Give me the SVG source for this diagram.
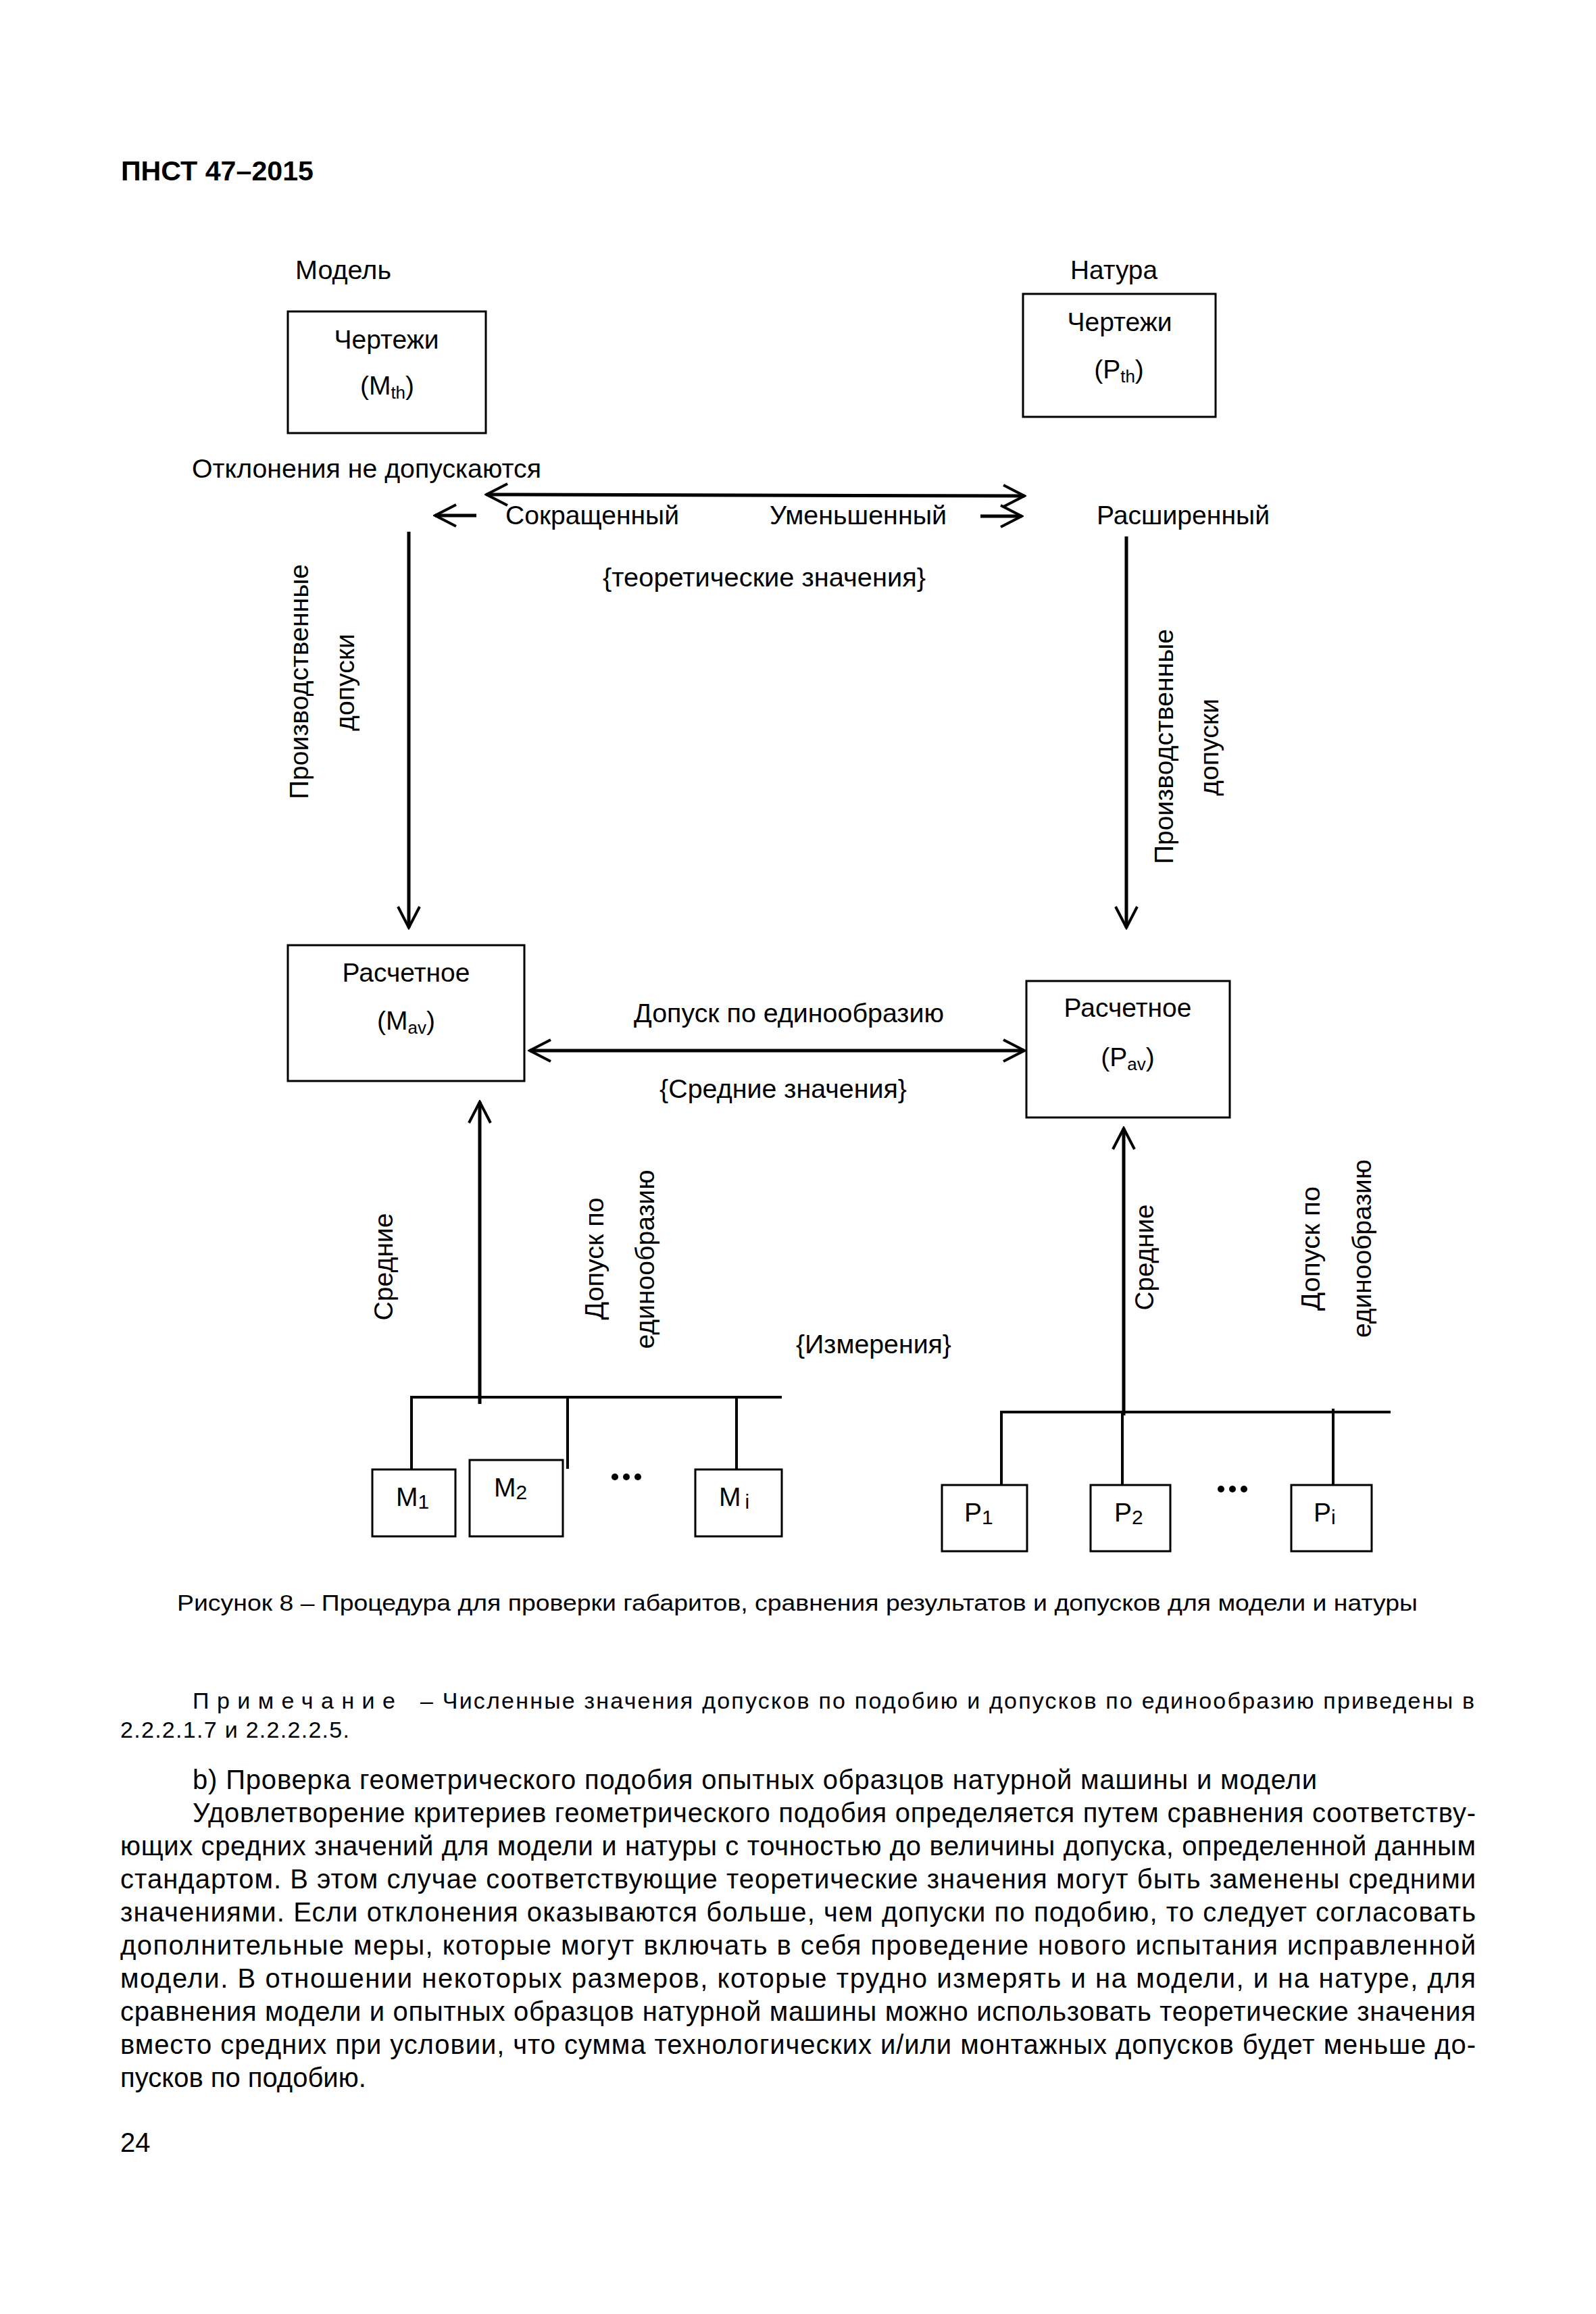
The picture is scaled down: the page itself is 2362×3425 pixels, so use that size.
<svg xmlns="http://www.w3.org/2000/svg" width="2362" height="3425" viewBox="0 0 2362 3425">
<style>
text{font-family:"Liberation Sans",Arial,sans-serif;fill:#000}
.t{font-size:39px}
.c{text-anchor:middle}
.sub{font-size:26px}
.sub2{font-size:30px}
.box{fill:#fff;stroke:#000;stroke-width:3}
.ln{fill:none;stroke:#000;stroke-width:5}
.bus{fill:none;stroke:#000;stroke-width:4}
.body{font-size:40px}
.cap{font-size:34px}
</style>
<defs>
<marker id="ah" viewBox="0 0 36 36" refX="33" refY="18" markerWidth="36" markerHeight="36" markerUnits="userSpaceOnUse" orient="auto-start-reverse">
<path d="M2,2 L33,18 L2,34" fill="none" stroke="#000" stroke-width="4"/>
</marker>
</defs>
<rect width="2362" height="3425" fill="#fff"/>

<text x="179" y="267" style="font-size:40px;font-weight:bold" textLength="285" lengthAdjust="spacingAndGlyphs">ПНСТ 47–2015</text>

<g id="labels-top">
<text class="t" x="437" y="413" textLength="142" lengthAdjust="spacingAndGlyphs">Модель</text>
<text class="t" x="1584" y="413" textLength="129" lengthAdjust="spacingAndGlyphs">Натура</text>
<text class="t" x="284" y="707" textLength="517" lengthAdjust="spacingAndGlyphs">Отклонения не допускаются</text>
<text class="t" x="748" y="776" textLength="257" lengthAdjust="spacingAndGlyphs">Сокращенный</text>
<text class="t" x="1139" y="776" textLength="262" lengthAdjust="spacingAndGlyphs">Уменьшенный</text>
<text class="t" x="1623" y="776" textLength="256" lengthAdjust="spacingAndGlyphs">Расширенный</text>
<text class="t" x="892" y="868" textLength="478" lengthAdjust="spacingAndGlyphs">{теоретические значения}</text>
<text class="t c" transform="translate(456,1009) rotate(-90)" textLength="348" lengthAdjust="spacingAndGlyphs">Производственные</text>
<text class="t c" transform="translate(524,1010) rotate(-90)" textLength="144" lengthAdjust="spacingAndGlyphs">допуски</text>
<text class="t c" transform="translate(1736,1105) rotate(-90)" textLength="348" lengthAdjust="spacingAndGlyphs">Производственные</text>
<text class="t c" transform="translate(1803,1106) rotate(-90)" textLength="144" lengthAdjust="spacingAndGlyphs">допуски</text>
</g>

<g id="labels-middle">
<text class="t" x="938" y="1513" textLength="459" lengthAdjust="spacingAndGlyphs">Допуск по единообразию</text>
<text class="t" x="976" y="1625" textLength="366" lengthAdjust="spacingAndGlyphs">{Средние значения}</text>
<text class="t" x="1178" y="2003" textLength="230" lengthAdjust="spacingAndGlyphs">{Измерения}</text>
<text class="t c" transform="translate(581,1875) rotate(-90)" textLength="159" lengthAdjust="spacingAndGlyphs">Средние</text>
<text class="t c" transform="translate(893,1863) rotate(-90)" textLength="181" lengthAdjust="spacingAndGlyphs">Допуск по</text>
<text class="t c" transform="translate(968,1864) rotate(-90)" textLength="265" lengthAdjust="spacingAndGlyphs">единообразию</text>
<text class="t c" transform="translate(1707,1861) rotate(-90)" textLength="157" lengthAdjust="spacingAndGlyphs">Средние</text>
<text class="t c" transform="translate(1953,1848) rotate(-90)" textLength="184" lengthAdjust="spacingAndGlyphs">Допуск по</text>
<text class="t c" transform="translate(2029,1848) rotate(-90)" textLength="264" lengthAdjust="spacingAndGlyphs">единообразию</text>
</g>

<g id="node-mth">
<rect class="box" x="426" y="461" width="293" height="180"/>
<text class="t c" x="572" y="516">Чертежи</text>
<text class="t c" x="573" y="584">(M<tspan class="sub" dy="6">th</tspan><tspan dy="-6">)</tspan></text>
</g>
<g id="node-pth">
<rect class="box" x="1514" y="435" width="285" height="182"/>
<text class="t c" x="1657" y="490">Чертежи</text>
<text class="t c" x="1656" y="560">(P<tspan class="sub" dy="6">th</tspan><tspan dy="-6">)</tspan></text>
</g>
<g id="node-mav">
<rect class="box" x="426" y="1399" width="350" height="201"/>
<text class="t c" x="601" y="1453">Расчетное</text>
<text class="t c" x="601" y="1524">(M<tspan class="sub" dy="6">av</tspan><tspan dy="-6">)</tspan></text>
</g>
<g id="node-pav">
<rect class="box" x="1519" y="1452" width="301" height="202"/>
<text class="t c" x="1669" y="1505">Расчетное</text>
<text class="t c" x="1669" y="1578">(P<tspan class="sub" dy="6">av</tspan><tspan dy="-6">)</tspan></text>
</g>

<g id="node-m1">
<rect class="box" x="551" y="2175" width="123" height="99"/>
<text class="t" x="586" y="2229">M<tspan class="sub2" dy="4">1</tspan></text>
</g>
<g id="node-m2">
<rect class="box" x="695" y="2161" width="138" height="113"/>
<text class="t" x="731" y="2215">M<tspan class="sub2" dy="4">2</tspan></text>
</g>
<g id="node-mi">
<rect class="box" x="1029" y="2175" width="128" height="99"/>
<text class="t" x="1064" y="2229">M<tspan class="sub2" dx="6" dy="4">i</tspan></text>
</g>
<g id="node-p1">
<rect class="box" x="1394" y="2198" width="126" height="98"/>
<text class="t" x="1427" y="2252">P<tspan class="sub2" dy="4">1</tspan></text>
</g>
<g id="node-p2">
<rect class="box" x="1614" y="2198" width="118" height="98"/>
<text class="t" x="1649" y="2252">P<tspan class="sub2" dy="4">2</tspan></text>
</g>
<g id="node-pi">
<rect class="box" x="1911" y="2198" width="119" height="98"/>
<text class="t" x="1944" y="2252">P<tspan class="sub2" dy="4">i</tspan></text>
</g>

<g id="ellipsis">
<circle cx="910" cy="2186" r="5"/><circle cx="927" cy="2186" r="5"/><circle cx="944" cy="2186" r="5"/>
<circle cx="1807" cy="2204" r="5"/><circle cx="1824" cy="2204" r="5"/><circle cx="1841" cy="2204" r="5"/>
</g>

<g id="connectors">
<line class="ln" x1="720" y1="732" x2="1516" y2="734" marker-start="url(#ah)" marker-end="url(#ah)"/>
<line class="ln" x1="705" y1="763" x2="644" y2="763" marker-end="url(#ah)"/>
<line class="ln" x1="1451" y1="764" x2="1512" y2="764" marker-end="url(#ah)"/>
<line class="ln" x1="605" y1="787" x2="605" y2="1373" marker-end="url(#ah)"/>
<line class="ln" x1="1667" y1="794" x2="1667" y2="1373" marker-end="url(#ah)"/>
<line class="ln" x1="784" y1="1555" x2="1516" y2="1555" marker-start="url(#ah)" marker-end="url(#ah)"/>
<line class="ln" x1="710" y1="2078" x2="710" y2="1631" marker-end="url(#ah)"/>
<line class="ln" x1="1663" y1="2095" x2="1663" y2="1670" marker-end="url(#ah)"/>
<path class="bus" d="M609,2175 V2068 H1157 M840,2068 V2174 M1090,2068 V2175"/>
<path class="bus" d="M1482,2198 V2090 H2058 M1661,2090 V2198 M1973,2085 V2198"/>
</g>

<g id="caption">
<text class="cap" x="262" y="2384" textLength="1836" lengthAdjust="spacingAndGlyphs">Рисунок 8 – Процедура для проверки габаритов, сравнения результатов и допусков для модели и натуры</text>
</g>

<g id="note">
<text class="cap" x="285" y="2529" textLength="300" lengthAdjust="spacing">Примечание</text>
<text class="cap" x="622" y="2529" textLength="1560" lengthAdjust="spacing">– Численные значения допусков по подобию и допусков по единообразию приведены в</text>
<text class="cap" x="178" y="2572" textLength="339" lengthAdjust="spacing">2.2.2.1.7 и 2.2.2.2.5.</text>
</g>

<g id="body-text">
<text class="body" x="285" y="2648" textLength="1664" lengthAdjust="spacing">b) Проверка геометрического подобия опытных образцов натурной машины и модели</text>
<text class="body" x="285" y="2697" textLength="1899" lengthAdjust="spacing">Удовлетворение критериев геометрического подобия определяется путем сравнения соответству-</text>
<text class="body" x="178" y="2746" textLength="2006" lengthAdjust="spacing">ющих средних значений для модели и натуры с точностью до величины допуска, определенной данным</text>
<text class="body" x="178" y="2795" textLength="2006" lengthAdjust="spacing">стандартом. В этом случае соответствующие теоретические значения могут быть заменены средними</text>
<text class="body" x="178" y="2844" textLength="2006" lengthAdjust="spacing">значениями. Если отклонения оказываются больше, чем допуски по подобию, то следует согласовать</text>
<text class="body" x="178" y="2893" textLength="2006" lengthAdjust="spacing">дополнительные меры, которые могут включать в себя проведение нового испытания исправленной</text>
<text class="body" x="178" y="2942" textLength="2006" lengthAdjust="spacing">модели. В отношении некоторых размеров, которые трудно измерять и на модели, и на натуре, для</text>
<text class="body" x="178" y="2991" textLength="2006" lengthAdjust="spacing">сравнения модели и опытных образцов натурной машины можно использовать теоретические значения</text>
<text class="body" x="178" y="3040" textLength="2006" lengthAdjust="spacing">вместо средних при условии, что сумма технологических и/или монтажных допусков будет меньше до-</text>
<text class="body" x="178" y="3089">пусков по подобию.</text>
<text class="body" x="178" y="3185">24</text>
</g>
</svg>
